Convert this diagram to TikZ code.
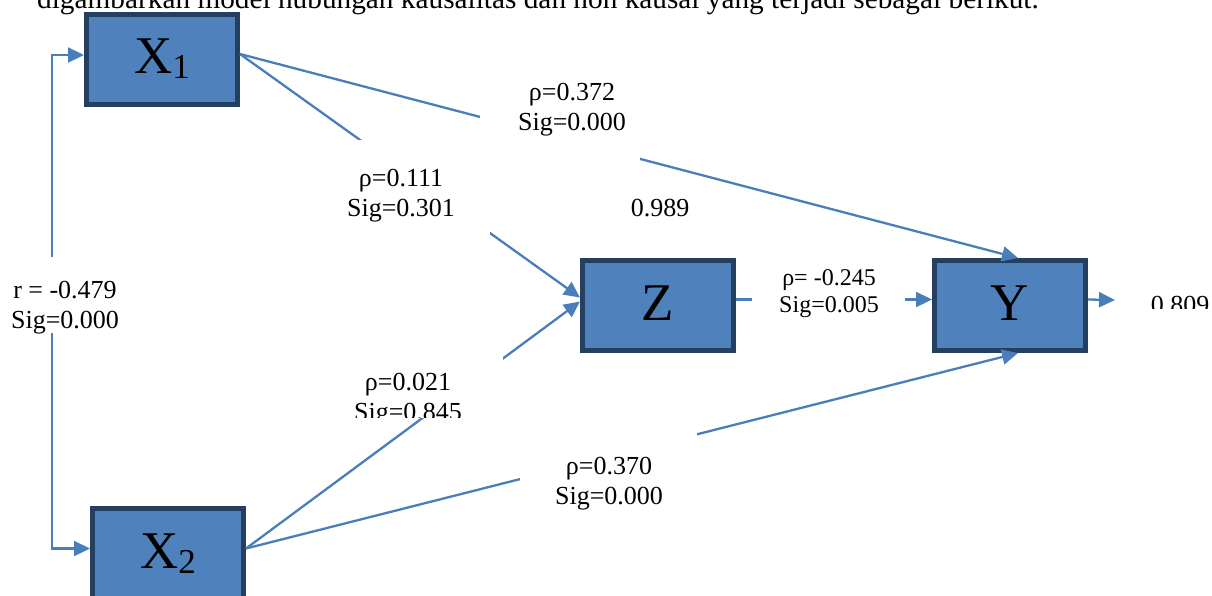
\documentclass[tikz,border=0pt]{standalone}
\usepackage{fontspec}
\setmainfont{Liberation Serif}
\usetikzlibrary{arrows.meta}
\definecolor{boxfill}{HTML}{4F81BD}
\definecolor{boxedge}{HTML}{243F60}
\definecolor{linec}{HTML}{4A7EBB}
\tikzset{
  varbox/.style={draw=boxedge, line width=5pt, fill=boxfill, minimum width=151pt, minimum height=90pt, inner sep=0pt},
  conn/.style={draw=linec, line width=2.3pt},
  arr/.style={conn, -{Triangle[length=16pt,width=15pt]}},
  cover/.style={fill=white, draw=none, inner sep=0pt},
  lab/.style={align=center, inner sep=0pt, font=\fontsize{26}{30}\selectfont},
  labs/.style={align=center, inner sep=0pt, font=\fontsize{24}{27}\selectfont},
}
\newcommand{\bigv}[2]{{\fontsize{53}{53}\selectfont #1\raisebox{-5pt}{\fontsize{35}{35}\selectfont #2}}}
\begin{document}
\begin{tikzpicture}[x=1pt,y=-1pt]
\useasboundingbox (0,0) rectangle (1212,595);
\clip (0,0) rectangle (1212,595);
% header line (cut off)
\node[anchor=base west, inner sep=0pt, font=\fontsize{29.3}{33}\selectfont] (head) at (37,8) {digambarkan model hubungan kausalitas dan non kausal yang terjadi sebagai berikut.};
% boxes
\node[varbox] (X1) at (162,59) {\bigv{X}{1}};
\node[varbox] (Z) at (658,305.5) {\bigv{Z}{}};
\node[varbox] (Y) at (1010,305.5) {\bigv{Y}{}};
\node[varbox] (X2) at (168,553.5) {\bigv{X}{2}};
% connectors
\coordinate (rl) at (52,300);
\coordinate (out) at (1115,300);
\draw[conn, {Triangle[length=16pt,width=15pt]}-{Triangle[length=16pt,width=15pt]}]
  ([yshift=4pt]X1.west) -- ([yshift=4pt]X1.west -| rl) -- ([yshift=5pt]X2.west -| rl) -- ([yshift=5pt]X2.west);
\draw[arr] ([yshift=5pt]X1.east) -- ([xshift=8pt]Y.north);
\draw[arr] ([yshift=5pt]X1.east) -- ([yshift=8pt]Z.west);
\draw[arr] ([yshift=5pt]X2.east) -- ([yshift=4pt]Z.west);
\draw[arr] ([yshift=5pt]X2.east) -- ([xshift=8pt]Y.south);
\draw[arr] ([yshift=6pt]Z.east) -- ([yshift=6pt]Y.west);
\draw[arr] ([yshift=6pt]Y.east) -- (out);
% white label boxes
\node[cover, minimum width=160pt, minimum height=95pt] (g1) at (560,117.5) {};
\node[cover, minimum width=180pt, minimum height=100pt] (g2) at (400,190) {};
\node[cover, minimum width=183pt, minimum height=62pt] (g3) at (411.5,387) {};
\node[cover, minimum width=177pt, minimum height=93pt] (g4) at (608.5,478.5) {};
\node[cover, minimum width=153pt, minimum height=60pt] (g5) at (828.5,295) {};
\node[cover, minimum width=120pt, minimum height=76pt] (g6) at (65,295) {};
% labels
\node[lab] (l1) at (572,110) {ρ=0.372\\Sig=0.000};
\node[lab] (l2) at (401,196) {ρ=0.111\\Sig=0.301};
\begin{scope}
\clip (300,340) rectangle (510,417);
\node[lab] (l3) at (408,400) {ρ=0.021\\Sig=0.845};
\end{scope}
\node[lab] (l4) at (609,484) {ρ=0.370\\Sig=0.000};
\node[labs] (l5) at (829,294) {ρ= -0.245\\Sig=0.005};
\node[lab] (l6) at (65,308) {r = -0.479\\Sig=0.000};
\node[lab] (l7) at (660,208) {0.989};
\begin{scope}
\clip (1130,270) rectangle (1212,308);
\node[lab, anchor=base] (l8) at (1180,313) {0.809};
\end{scope}
\end{tikzpicture}
\end{document}
